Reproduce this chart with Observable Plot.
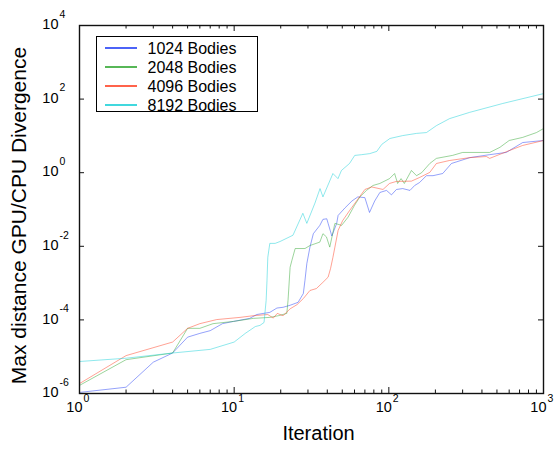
<!DOCTYPE html>
<html><head><meta charset="utf-8">
<script src="https://cdn.jsdelivr.net/npm/d3@7"></script>
<script src="https://cdn.jsdelivr.net/npm/@observablehq/plot@0.6"></script>
<style>body{margin:0;background:#fff} svg{font-family:"Liberation Sans",Arial,Helvetica,sans-serif}</style>
</head><body><div id="chart"></div>
<script>
const seriesNames = ["1024 Bodies", "2048 Bodies", "4096 Bodies", "8192 Bodies"];
const seriesColors = ["#1f3cf5", "#2ea52e", "#ff3c1e", "#12cfd6"];

const it1024 = [1, 2, 3, 4, 5, 6, 7, 8.4, 9.9, 12.6, 14, 17, 18.9, 20.7, 23, 25.9, 28, 28.7, 29.5, 30.9, 32.5, 35.8, 37.5, 39.7, 40.5, 42.8, 46, 47, 52, 57.7, 63, 70, 75, 81, 87.5, 96.6, 104, 112, 123, 137, 147, 158, 175, 193, 223, 254, 334, 449, 574, 734, 1000];
const v1024 = [1.07e-6, 1.48e-6, 7.1e-6, 1.26e-5, 3.4e-5, 4.3e-5, 5.1e-5, 7.9e-5, 9.1e-5, 1.1e-4, 1.4e-4, 1.6e-4, 2.1e-4, 2.2e-4, 2.5e-4, 3.0e-4, 5.2e-4, 1.2e-3, 3.4e-3, 9.5e-3, 0.022, 0.037, 0.054, 0.056, 0.042, 0.019, 0.042, 0.069, 0.11, 0.17, 0.22, 0.21, 0.083, 0.17, 0.29, 0.33, 0.25, 0.35, 0.37, 0.33, 0.45, 0.54, 0.83, 0.83, 0.95, 1.78, 2.57, 3.09, 3.55, 6.6, 7.5];

const it2048 = [1, 2, 4, 5, 6, 7.3, 9.9, 13.3, 17, 19.3, 21.9, 22.3, 23, 23.6, 24.8, 28.7, 30.9, 35.8, 37.5, 39.5, 41.5, 44.8, 49.5, 54.5, 60, 65, 71.7, 79, 87.5, 101, 109, 114, 120, 126, 140, 151, 163, 184, 203, 258, 300, 449, 523, 600, 733, 900, 1000];
const v2048 = [1.66e-6, 8.3e-6, 1.26e-5, 5.9e-5, 5.9e-5, 7.9e-5, 9.1e-5, 1.1e-4, 1.17e-4, 1.3e-4, 1.5e-4, 3.4e-4, 2.7e-3, 4.1e-3, 8.7e-3, 8.7e-3, 0.0105, 0.013, 0.022, 0.018, 0.0095, 0.042, 0.037, 0.062, 0.13, 0.22, 0.33, 0.45, 0.51, 0.69, 0.95, 0.51, 0.69, 0.51, 1.15, 0.83, 1.0, 1.78, 2.45, 2.95, 3.55, 3.55, 4.9, 7.5, 9.1, 12.3, 15.8];

const it4096 = [1, 2, 4, 5, 6, 7.7, 10.9, 13.3, 16.5, 17.9, 19, 20.7, 23, 25.5, 28, 30.9, 34, 37.5, 40.5, 42, 43.5, 44.8, 47, 50.3, 55.7, 63, 70, 77.5, 91.7, 101, 112, 140, 158, 184, 203, 246, 334, 427, 449, 600, 733, 1000];
const v4096 = [1.86e-6, 1.07e-5, 2.5e-5, 5.9e-5, 7.9e-5, 1.02e-4, 1.17e-4, 1.3e-4, 1.4e-4, 1.12e-4, 1.5e-4, 1.3e-4, 2.0e-4, 2.6e-4, 3.8e-4, 6.3e-4, 7.1e-4, 1.05e-3, 1.45e-3, 2.5e-3, 5.0e-3, 9.5e-3, 0.027, 0.05, 0.093, 0.19, 0.35, 0.41, 0.35, 0.51, 0.58, 0.59, 0.74, 1.02, 1.78, 2.14, 2.57, 2.75, 2.45, 3.98, 5.5, 7.5];

const it8192 = [1, 2, 4, 7, 10, 11.8, 13.7, 14.7, 15.6, 16.1, 16.3, 16.5, 17, 18.4, 19.8, 24, 27.8, 29.5, 33.3, 35.9, 37.5, 43.5, 46.9, 49.4, 55.7, 60.2, 66.8, 75.3, 83.6, 90.1, 101.6, 123, 151, 175, 203, 247, 333, 545, 1000];
const v8192 = [7.4e-6, 9.1e-6, 1.26e-5, 1.58e-5, 2.5e-5, 4.3e-5, 6.6e-5, 7.1e-5, 8.5e-5, 3.4e-4, 1.17e-3, 5.0e-3, 0.012, 0.012, 0.0135, 0.02, 0.079, 0.042, 0.15, 0.37, 0.22, 0.95, 0.69, 1.15, 1.78, 2.95, 3.09, 3.3, 3.8, 5.9, 8.5, 10.2, 11.7, 12.3, 19, 29.5, 43.6, 76, 141];

const xMajorTicks = [1, 10, 100, 1000];
const xTickExponents = ["0", "1", "2", "3"];
const xMinorTicks = [2, 3, 4, 5, 6, 7, 8, 9, 20, 30, 40, 50, 60, 70, 80, 90, 200, 300, 400, 500, 600, 700, 800, 900];
const yMajorTicks = [1e-6, 1e-4, 1e-2, 1, 1e2, 1e4];
const yTickExponents = ["-6", "-4", "-2", "0", "2", "4"];

const xTitle = "Iteration";
const yTitle = "Max distance GPU/CPU Divergence";

const series = [
  {name: seriesNames[0], it: it1024, v: v1024},
  {name: seriesNames[1], it: it2048, v: v2048},
  {name: seriesNames[2], it: it4096, v: v4096},
  {name: seriesNames[3], it: it8192, v: v8192}
];
const table = [];
series.forEach(s => s.it.forEach((x, i) => table.push({series: s.name, it: x, v: s.v[i]})));

const W = 558, H = 449, mL = 79, mR = 15, mT = 25, mB = 56;
const innerW = W - mL - mR, innerH = H - mT - mB;
const xLab = xMajorTicks.map((t, i) => ({t, e: xTickExponents[i]}));
const yLab = yMajorTicks.map((t, i) => ({t, e: yTickExponents[i]}));
const font = "Liberation Sans, Arial, Helvetica, sans-serif";

const plot = Plot.plot({
  width: W, height: H,
  marginLeft: mL, marginRight: mR, marginTop: mT, marginBottom: mB,
  style: {fontFamily: font, background: "white", overflow: "visible"},
  x: {type: "log", domain: [1, 1000], axis: null},
  y: {type: "log", domain: [1e-6, 1e4], axis: null},
  color: {domain: seriesNames, range: seriesColors},
  marks: [
    Plot.line(table, {x: "it", y: "v", z: "series", stroke: "series", strokeWidth: 0.6, strokeOpacity: 0.8}),
    Plot.frame({stroke: "#111", strokeWidth: 1.4}),
    Plot.ruleX(xMajorTicks, {x: d => d, insetTop: innerH - 6, stroke: "#111"}),
    Plot.ruleX(xMajorTicks, {x: d => d, insetBottom: innerH - 6, stroke: "#111"}),
    Plot.ruleX(xMinorTicks, {x: d => d, insetTop: innerH - 3.5, stroke: "#111"}),
    Plot.ruleX(xMinorTicks, {x: d => d, insetBottom: innerH - 3.5, stroke: "#111"}),
    Plot.ruleY(yMajorTicks, {y: d => d, insetRight: innerW - 5, stroke: "#111"}),
    Plot.ruleY(yMajorTicks, {y: d => d, insetLeft: innerW - 5, stroke: "#111"}),
    Plot.text(xLab, {x: "t", frameAnchor: "bottom", text: () => "10", textAnchor: "end", dx: 3, dy: 18, fontSize: 14.5, fill: "black"}),
    Plot.text(xLab, {x: "t", frameAnchor: "bottom", text: "e", textAnchor: "start", dx: 4, dy: 8, fontSize: 10.5, fill: "black"}),
    Plot.text(yLab, {y: "t", frameAnchor: "left", text: () => "10", textAnchor: "end", dx: -21, dy: -1, fontSize: 14.5, fill: "black"}),
    Plot.text(yLab, {y: "t", frameAnchor: "left", text: "e", textAnchor: "start", dx: -20, dy: -11, fontSize: 10.5, fill: "black"}),
    Plot.text([xTitle], {frameAnchor: "bottom", text: d => d, textAnchor: "middle", dx: 7, dy: 46, fontSize: 20, fill: "black"}),
    Plot.text([yTitle], {frameAnchor: "left", text: d => d, textAnchor: "middle", rotate: -90, dx: -60, dy: 6, fontSize: 21, fill: "black"})
  ]
});

const svg = d3.select(plot);
const lg = svg.append("g").attr("font-family", font).attr("text-anchor", "start");
lg.append("rect").attr("x", 96.5).attr("y", 36.5).attr("width", 161).attr("height", 75)
  .attr("fill", "white").attr("stroke", "black").attr("stroke-width", 1);
seriesNames.forEach((n, i) => {
  const y = Math.round(48 + 19.1 * i);
  lg.append("line").attr("x1", 105).attr("x2", 137).attr("y1", y).attr("y2", y)
    .attr("stroke", seriesColors[i]).attr("stroke-width", 1.6);
  lg.append("text").attr("x", 147.5).attr("y", y).attr("dy", "0.35em")
    .attr("text-anchor", "start").attr("font-size", 16).attr("fill", "black").text(n);
});
document.getElementById("chart").appendChild(plot);
</script>
</body></html>
